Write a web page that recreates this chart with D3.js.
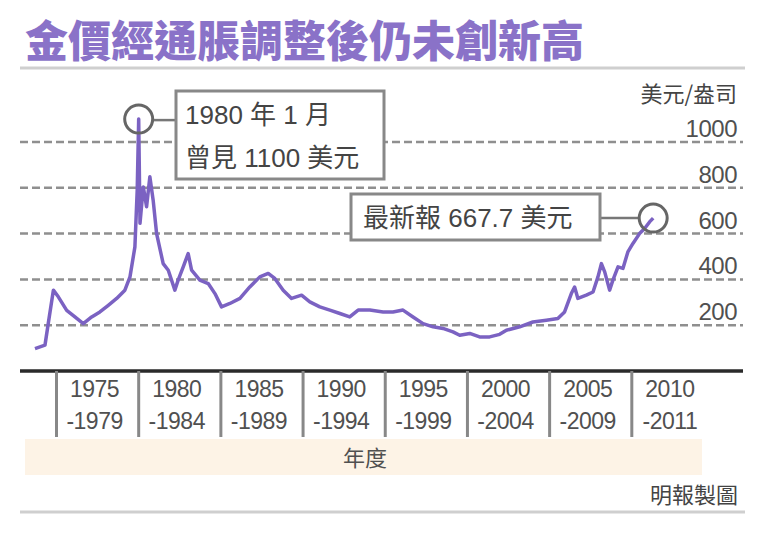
<!DOCTYPE html>
<html><head><meta charset="utf-8">
<script src="https://cdn.jsdelivr.net/npm/d3@7"></script>
<style>body{margin:0;background:#fff}svg{display:block}</style>
</head><body><svg id="c" width="765" height="540"></svg>
<script>
const title = "金價經通脹調整後仍未創新高";
const unitLabel = "美元/盎司";
const yTicks = [200, 400, 600, 800, 1000];
const periodStart = ["1975","1980","1985","1990","1995","2000","2005","2010"];
const periodEnd = ["-1979","-1984","-1989","-1994","-1999","-2004","-2009","-2011"];
const xTitle = "年度";
const source = "明報製圖";
const years = [1973.69,1974.30,1974.50,1974.81,1975.11,1975.62,1976.12,1976.63,1977.14,1977.64,1978.15,1978.66,1979.16,1979.47,1979.77,1979.91,1980.00,1980.08,1980.28,1980.48,1980.68,1980.88,1981.09,1981.49,1981.80,1982.20,1982.40,1982.71,1983.01,1983.22,1983.72,1984.23,1984.64,1985.04,1985.55,1986.16,1986.76,1987.37,1987.88,1988.28,1988.79,1989.30,1989.91,1990.41,1991.02,1991.63,1992.24,1992.84,1993.35,1994.06,1994.87,1995.47,1996.08,1996.69,1997.30,1997.91,1998.51,1999.12,1999.53,2000.14,2000.74,2001.35,2001.96,2002.37,2003.18,2003.98,2004.80,2005.50,2005.91,2006.32,2006.52,2006.72,2007.23,2007.64,2007.94,2008.15,2008.35,2008.65,2008.85,2009.16,2009.46,2009.76,2010.07,2010.47,2010.78,2011.08,2011.30];
const prices = [98,113,208,353,324,265,236,207,236,258,287,317,353,411,542,790,1100,645,804,717,848,746,600,469,440,353,397,455,513,440,397,382,338,280,295,317,367,411,426,404,353,317,331,302,280,266,251,236,266,266,258,258,266,236,207,193,186,171,156,164,149,149,160,178,193,214,222,229,258,338,367,317,331,345,411,469,433,353,397,455,448,520,557,600,622,651,667.7];
const peakNote = ["1980 年 1 月", "曾見 1100 美元"];
const latestNote = "最新報 667.7 美元";
const peakPoint = {year: 1980.0, value: 1100};
const latestPoint = {year: 2011.3, value: 667.7};

const svg = d3.select("#c");
const FONT = "'Liberation Sans','Noto Sans CJK TC',sans-serif";
const CJK = "'Noto Sans CJK TC',sans-serif";

const x = d3.scaleLinear().domain([1975, 2015]).range([56.5, 714]);
const band = d3.scaleBand().domain(periodStart).range([56.5, 714]).padding(0);
const y = d3.scaleLinear().domain([0, 1000]).range([371, 142]);

// title
svg.append("text").attr("x", 25).attr("y", 57).text(title)
  .attr("font-family", CJK).attr("font-weight", 900).attr("font-size", 43)
  .attr("fill", "#8a72c8");
svg.append("line").attr("x1", 20).attr("x2", 745).attr("y1", 68).attr("y2", 68)
  .attr("stroke", "#cfcfcf").attr("stroke-width", 3);

// unit
svg.append("text").attr("x", 737).attr("y", 102).attr("text-anchor", "end").text(unitLabel)
  .attr("font-family", CJK).attr("font-size", 22).attr("fill", "#444");

// gridlines + labels
const g = svg.append("g");
g.selectAll("line.grid").data(yTicks).join("line").attr("class","grid")
  .attr("x1", 20).attr("x2", 743).attr("y1", d => y(d)).attr("y2", d => y(d))
  .attr("stroke", "#8f8f8f").attr("stroke-width", 2.5).attr("stroke-dasharray", "8,4");
g.selectAll("text.tick").data(yTicks).join("text").attr("class","tick")
  .attr("x", 737).attr("y", d => y(d) - 5).attr("text-anchor", "end")
  .text(d => d).attr("font-family", FONT).attr("font-size", 24).attr("fill", "#505050")
  .attr("letter-spacing", -0.5);

// line
const line = d3.line().x((d, i) => x(years[i])).y(d => y(d)).curve(d3.curveLinear);
svg.append("path").attr("d", line(prices)).attr("fill", "none")
  .attr("stroke", "#7b62c2").attr("stroke-width", 3.5).attr("stroke-linejoin", "round");

// axis
svg.append("line").attr("x1", 20).attr("x2", 743).attr("y1", 371).attr("y2", 371)
  .attr("stroke", "#2a2a2a").attr("stroke-width", 3.5);
svg.selectAll("line.sep").data(periodStart).join("line").attr("class","sep")
  .attr("x1", d => band(d)).attr("x2", d => band(d)).attr("y1", 371).attr("y2", 437)
  .attr("stroke", "#888").attr("stroke-width", 3);
svg.selectAll("text.p1").data(periodStart).join("text").attr("class","p1")
  .attr("x", d => band(d) + band.bandwidth() / 2 - 3).attr("y", 397).attr("text-anchor", "middle")
  .text(d => d).attr("font-family", FONT).attr("font-size", 23).attr("fill", "#505050").attr("letter-spacing", -0.5);
svg.selectAll("text.p2").data(periodEnd).join("text").attr("class","p2")
  .attr("x", (d, i) => band(periodStart[i]) + band.bandwidth() / 2 - 3).attr("y", 429).attr("text-anchor", "middle")
  .text(d => d).attr("font-family", FONT).attr("font-size", 23).attr("fill", "#505050").attr("letter-spacing", -0.5);

// x title band
svg.append("rect").attr("x", 25).attr("y", 439).attr("width", 677).attr("height", 36).attr("fill", "#fdf3e6");
svg.append("text").attr("x", 365).attr("y", 466).attr("text-anchor", "middle").text(xTitle)
  .attr("font-family", CJK).attr("font-size", 22).attr("fill", "#505050");

// source
svg.append("text").attr("x", 738).attr("y", 503).attr("text-anchor", "end").text(source)
  .attr("font-family", CJK).attr("font-size", 22).attr("fill", "#444");
svg.append("line").attr("x1", 20).attr("x2", 745).attr("y1", 512).attr("y2", 512)
  .attr("stroke", "#cfcfcf").attr("stroke-width", 3);

// annotations
const px = x(peakPoint.year), py = y(peakPoint.value);
svg.append("line").attr("x1", px + 14).attr("x2", 176).attr("y1", py + 1).attr("y2", py + 1)
  .attr("stroke", "#777").attr("stroke-width", 2.5);
svg.append("circle").attr("cx", px).attr("cy", py).attr("r", 14).attr("fill", "none")
  .attr("stroke", "#666").attr("stroke-width", 3);
svg.append("rect").attr("x", 176).attr("y", 91).attr("width", 208).attr("height", 88)
  .attr("fill", "#fff").attr("stroke", "#888").attr("stroke-width", 3);
svg.selectAll("text.pn").data(peakNote).join("text").attr("class","pn")
  .attr("x", 185).attr("y", (d, i) => 124 + i * 43).text(d => d)
  .attr("font-family", FONT).attr("font-size", 26).attr("fill", "#444");

const lx = x(latestPoint.year), ly = y(latestPoint.value);
svg.append("line").attr("x1", 600).attr("x2", lx - 14).attr("y1", ly).attr("y2", ly)
  .attr("stroke", "#777").attr("stroke-width", 2.5);
svg.append("circle").attr("cx", lx).attr("cy", ly).attr("r", 14).attr("fill", "none")
  .attr("stroke", "#666").attr("stroke-width", 3);
svg.append("rect").attr("x", 351).attr("y", 194).attr("width", 249).attr("height", 46)
  .attr("fill", "#fff").attr("stroke", "#888").attr("stroke-width", 3);
svg.append("text").attr("x", 363).attr("y", 227).text(latestNote)
  .attr("font-family", FONT).attr("font-size", 26).attr("fill", "#444");
</script></body></html>
